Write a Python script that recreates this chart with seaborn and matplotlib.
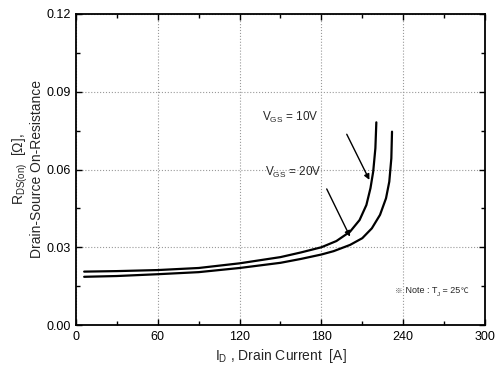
import matplotlib
matplotlib.use("Agg")
import matplotlib.pyplot as plt
from matplotlib.ticker import MultipleLocator
import seaborn as sns
import pandas as pd

# Data
id_10v = [6, 30, 60, 90, 120, 150, 165, 180, 191, 201, 208, 213, 216, 218, 219.6, 220.3]
r_10v = [0.0206, 0.0208, 0.0212, 0.0220, 0.0238, 0.0262, 0.0280, 0.0300, 0.0324,
         0.0360, 0.0405, 0.0463, 0.0528, 0.0592, 0.0682, 0.0782]
id_20v = [6, 30, 60, 90, 120, 150, 165, 180, 189, 201, 210, 217, 223, 227.4, 229.8,
          231.3, 231.8]
r_20v = [0.0186, 0.0189, 0.0196, 0.0204, 0.0220, 0.0240, 0.0255, 0.0272, 0.0285,
         0.0309, 0.0335, 0.0373, 0.0425, 0.0489, 0.0553, 0.0643, 0.0746]
x_ticks = [0, 60, 120, 180, 240, 300]
y_ticks = [0.00, 0.03, 0.06, 0.09, 0.12]
y_tick_labels = ["0.00", "0.03", "0.06", "0.09", "0.12"]

df = pd.concat([
    pd.DataFrame({"ID": id_10v, "R": r_10v, "VGS": "10V"}),
    pd.DataFrame({"ID": id_20v, "R": r_20v, "VGS": "20V"}),
])

sns.set_style("ticks")
plt.rcParams["font.family"] = ["Liberation Sans", "DejaVu Sans"]
plt.rcParams["mathtext.fontset"] = "custom"
plt.rcParams["mathtext.rm"] = "Liberation Sans"
plt.rcParams["mathtext.it"] = "Liberation Sans"

fig = plt.figure(figsize=(4.95, 3.75), dpi=100)
ax = fig.add_axes([0.1535, 0.1333, 0.8263, 0.8294])

sns.lineplot(data=df, x="ID", y="R", units="VGS", estimator=None, sort=False,
             color="black", linewidth=1.6, ax=ax, legend=False)

ax.set_xlim(0, 300)
ax.set_ylim(0, 0.12)
ax.set_xticks(x_ticks)
ax.set_yticks(y_ticks)
ax.set_yticklabels(y_tick_labels)
ax.xaxis.set_minor_locator(MultipleLocator(30))
ax.yaxis.set_minor_locator(MultipleLocator(0.015))
ax.tick_params(which="both", direction="in", top=True, right=True,
               labelsize=9, colors="black", width=1)
ax.tick_params(which="major", length=4)
ax.tick_params(which="minor", length=3)
ax.tick_params(axis="x", pad=4)
for s in ax.spines.values():
    s.set_linewidth(1.3)
    s.set_color("black")
ax.grid(True, which="major", linestyle=":", color="#999999", linewidth=0.8)

ax.set_xlabel(r"I$_{\mathrm{D}}$ , Drain Current  [A]", fontsize=10, labelpad=3)
ax.set_ylabel("R$_{DS(on)}$  [$\\Omega$],\nDrain-Source On-Resistance", fontsize=10,
              labelpad=2, linespacing=1.0)

ax.text(157, 0.0799, r"V$_{GS}$ = 10V", fontsize=8.5, ha="center", va="center")
ax.annotate("", xy=(215.2, 0.0560), xytext=(198.6, 0.0736),
            arrowprops=dict(arrowstyle="-|>", color="black", lw=1.0,
                            mutation_scale=8, shrinkA=0, shrinkB=0))
ax.text(159, 0.0587, r"V$_{GS}$ = 20V", fontsize=8.5, ha="center", va="center")
ax.annotate("", xy=(201, 0.0341), xytext=(183.9, 0.0525),
            arrowprops=dict(arrowstyle="-|>", color="black", lw=1.0,
                            mutation_scale=8, shrinkA=0, shrinkB=0))

# Note text built from pieces so that ※ and ℃ get a font that has them
cjk = ["Noto Sans CJK SC", "DejaVu Sans"]
t1 = ax.text(234, 0.0125, "※", fontsize=5.5, ha="left", va="baseline", family=cjk,
             color="#444444")
t2 = ax.annotate(" Note : T", xy=(1, 0), xycoords=t1, fontsize=6.5, ha="left",
                 va="bottom", family=["Liberation Sans"])
t3 = ax.annotate("J", xy=(1, 0), xycoords=t2, xytext=(0, -1.5),
                 textcoords="offset points", fontsize=4.5, ha="left", va="bottom",
                 family=["Liberation Sans"])
t4 = ax.annotate(" = 25", xy=(1, 0), xycoords=t3, xytext=(0, 1.5),
                 textcoords="offset points", fontsize=6.5, ha="left", va="bottom",
                 family=["Liberation Sans"])
t5 = ax.annotate("℃", xy=(1, 0), xycoords=t4, fontsize=5.5, ha="left", va="bottom",
                 family=cjk)

fig.savefig("out.png", dpi=100)
